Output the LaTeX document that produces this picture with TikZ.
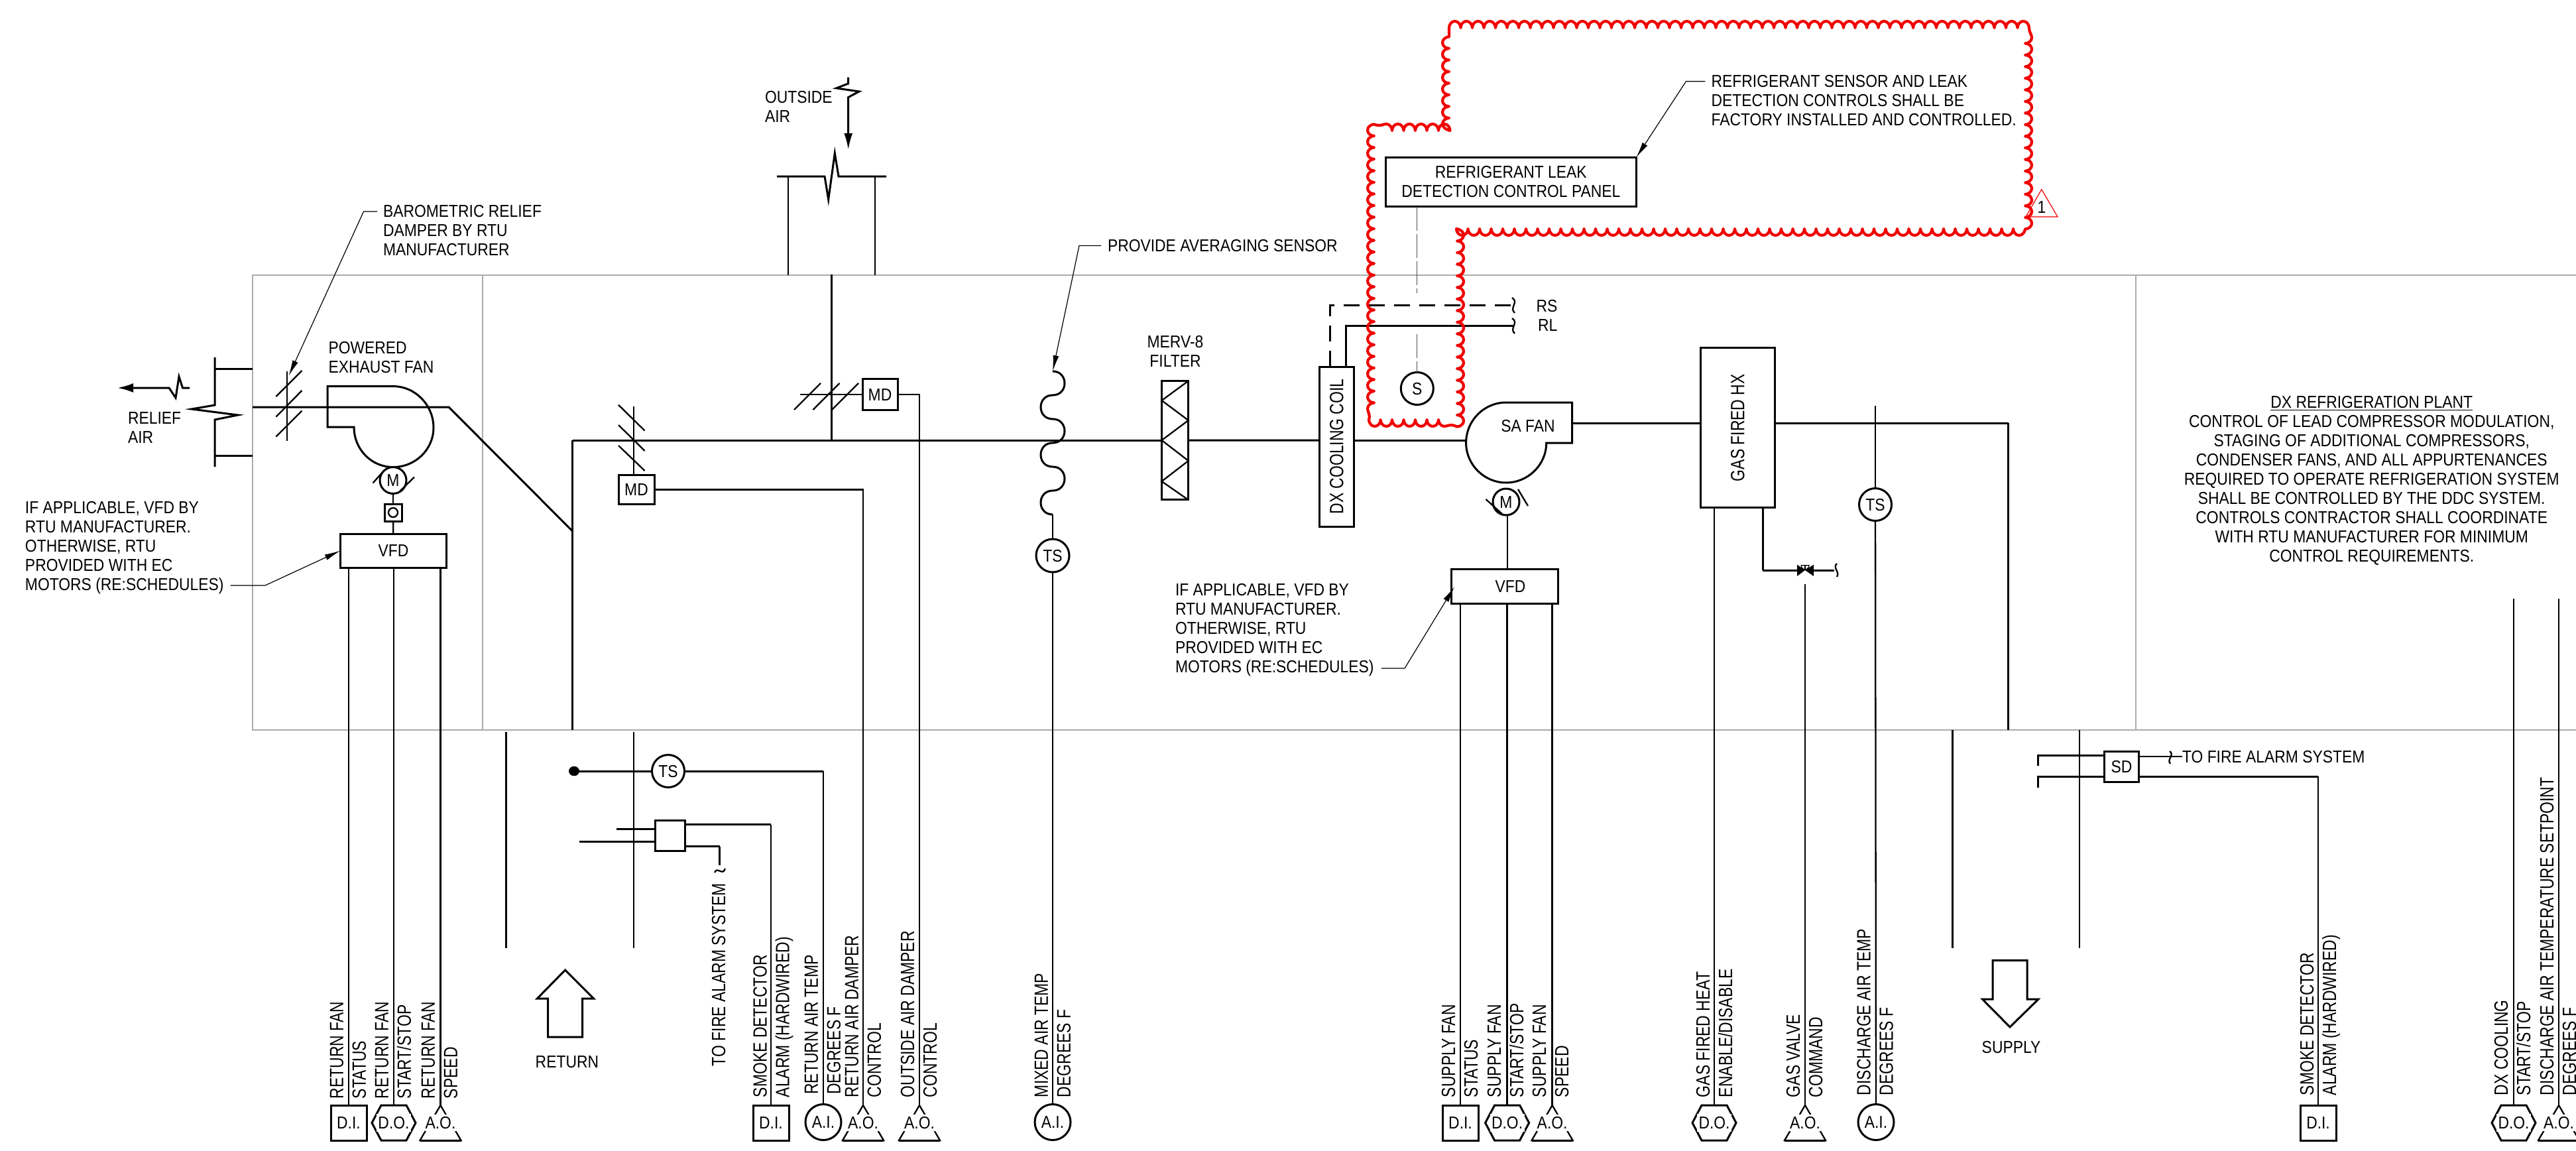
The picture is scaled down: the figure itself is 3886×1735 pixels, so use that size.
\documentclass[tikz,border=0pt]{standalone}
\usepackage{fontspec}
\setmainfont{Liberation Sans}[FakeStretch=0.88]
\newfontfamily\rotfont{Liberation Sans}[FakeStretch=0.79]
\usetikzlibrary{arrows.meta,calc,decorations.pathmorphing}
\definecolor{gridgrey}{HTML}{ABABAB}
\definecolor{cloudred}{HTML}{F00000}
\tikzset{
  every node/.style={inner sep=0pt,outer sep=0pt},
  line/.style={line width=1.15pt,black},
  heavy/.style={line width=1.5pt,black},
  frame/.style={line width=1pt,gridgrey},
  leader/.style={line width=.6pt,black,-{Latex[length=12pt,width=4.5pt]}},
  txt/.style={font=\fontsize{13}{14.5}\selectfont,anchor=west,align=left},
  ctxt/.style={font=\fontsize{13}{14.5}\selectfont,align=center},
  one/.style={font=\fontsize{13}{14.5}\selectfont,text height=9.3pt,text depth=0pt},
  vlab/.style={font=\rotfont\fontsize{14.5}{17}\selectfont,rotate=90,anchor=west,align=left,text depth=0pt},
  boxed/.style={draw,heavy,fill=white,font=\fontsize{13}{14.5}\selectfont,text height=9.3pt,text depth=0pt,align=center},
  rotbox/.style={draw,heavy,fill=white,rotate=90,font=\rotfont\fontsize{14.5}{17}\selectfont,text height=10.4pt,text depth=0pt},
  panelbox/.style={draw,heavy,fill=white,font=\fontsize{13}{14.5}\selectfont,align=center},
  sensor/.style={draw,circle,heavy,fill=white,minimum size=24.5pt,font=\fontsize{13}{14.5}\selectfont,text height=9.3pt,text depth=0pt},
  symb/.style={minimum height=26.5pt,minimum width=20pt,font=\fontsize{13}{14.5}\selectfont,text height=9.3pt,text depth=0pt},
  brk/.style={line width=1.15pt,black}
}
\newcommand\symDI[2]{\node[symb,draw,heavy,minimum width=27pt] (#1) at (#2,1693.5) {D.I.};}
\newcommand\symDO[2]{\draw[heavy] (#2-19,1667) -- (#2+19,1667) -- (#2+33,1693.5) -- (#2+19,1720) -- (#2-19,1720) -- (#2-33,1693.5) -- cycle;
  \fill[white] (#2-26,1680) rectangle (#2+26,1707);
  \node[symb] (#1) at (#2,1693.5) {D.O.};}
\newcommand\symAO[2]{\draw[line] (#2,1667) -- (#2+31,1720) -- (#2-31,1720) -- cycle;
  \draw[heavy] (#2-31,1720) -- (#2+31,1720);
  \fill[white] (#2-24,1681) rectangle (#2+24,1706);
  \node[symb] (#1) at (#2,1693.5) {A.O.};}
\newcommand\symAI[2]{\node[sensor,minimum size=27pt] (#1) at (#2,1692.5) {A.I.};}
\begin{document}
\begin{tikzpicture}[x=.5pt,y=-.5pt]
\useasboundingbox (0,0) rectangle (3886,1735);
\clip (0,0) rectangle (3886,1735);
% unit frame
\draw[frame] (3886,415) -- (381,415) -- (381,1101) -- (3886,1101);
\draw[frame] (728,415) -- (728,1101);
\draw[frame] (3222,415) -- (3222,1101);

% ---------- relief air
\draw[heavy,-{Latex[length=12pt,width=7pt]}] (286,585) -- (275.5,585) -- (270,568) -- (265,600) -- (255,585) -- (177,585);
\draw[heavy] (324,539) -- (324,611) -- (289,617) -- (359,626) -- (324,633) -- (324,704);
\draw[heavy] (324,556) -- (381,556);
\draw[heavy] (324,687) -- (381,687);
\node[txt] (relief) at (193,645) {RELIEF\\AIR};
\draw[heavy] (381,614) -- (677,614) -- (863.5,801);
\draw[line] (433,560) -- (433,665);
\draw[line] (416.5,598) -- (455.5,559);
\draw[line] (416.5,628.6) -- (455.5,589);
\draw[line] (416.5,658.5) -- (455.5,619.6);
\coordinate (bdtip) at (435.5,567);
\node[txt] (baro) at (578,348) {BAROMETRIC RELIEF\\DAMPER BY RTU\\MANUFACTURER};
\draw[leader] (569,319) -- (548.5,319) -- (bdtip);
\node[txt] (powered) at (495.5,539) {POWERED\\EXHAUST FAN};
% exhaust fan
\draw[heavy] (494,582.6) -- (593,582.6) .. controls (626.5,582.6) and (654,611) .. (654,645)
  .. controls (654,678) and (626.5,704.5) .. (593,704.5)
  .. controls (560.5,704.5) and (534,678) .. (534,644) -- (494,644) -- cycle;
\node[sensor,minimum size=20pt,draw] (m1) at (593,724.5) {M};
\draw[line] (562.5,728.6) -- (578,711);
\draw[line] (625,719.6) -- (603,741);
\node[draw,heavy,minimum width=13pt,minimum height=13pt] (cpl) at (593,773) {};
\draw[line] (593,773) circle (7);
\node[boxed,minimum width=80pt,minimum height=25.5pt] (vfd1) at (593.5,830.5) {VFD};
\draw[line] (m1) -- (cpl);
\draw[line] (cpl) -- (vfd1);
\node[txt] (note1) at (38,826) {IF APPLICABLE, VFD BY\\RTU MANUFACTURER.\\OTHERWISE, RTU\\PROVIDED WITH EC\\MOTORS (RE:SCHEDULES)};
\draw[leader] (347.6,883) -- (400,883) -- (vfd1.west);

% ---------- symbols along the bottom
\symDI{di1}{526}\symDO{do1}{594}\symAO{ao1}{664.5}
\symDI{di2}{1163}\symAI{ai1}{1242}\symAO{ao2}{1302}\symAO{ao3}{1387}
\symAI{ai2}{1588}
\symDI{di3}{2203}\symDO{do2}{2273.6}\symAO{ao4}{2341.6}
\symDO{do3}{2586}\symAO{ao5}{2723}\symAI{ai3}{2830}
\symDI{di4}{3497}\symDO{do4}{3792}\symAO{ao6}{3860}
\draw[line] (di1.north |- vfd1.south) -- (di1.north);
\draw[line] (do1.north |- vfd1.south) -- (do1.north);
\draw[line] (ao1.north |- vfd1.south) -- (ao1.north);
\node[vlab] at (525,1657) {RETURN FAN\\STATUS};
\node[vlab] at (593,1657) {RETURN FAN\\START/STOP};
\node[vlab] at (663,1657) {RETURN FAN\\SPEED};
\node[vlab] at (1163.5,1655) {SMOKE DETECTOR\\ALARM (HARDWIRED)};
\node[vlab] at (1241,1650.6) {RETURN AIR TEMP\\DEGREES F};
\node[vlab] at (1302,1655) {RETURN AIR DAMPER\\CONTROL};
\node[vlab] at (1386,1655) {OUTSIDE AIR DAMPER\\CONTROL};
\node[vlab] at (1588,1655) {MIXED AIR TEMP\\DEGREES F};
\node[vlab] at (2202,1655) {SUPPLY FAN\\STATUS};
\node[vlab] at (2271,1655) {SUPPLY FAN\\START/STOP};
\node[vlab] at (2339,1655) {SUPPLY FAN\\SPEED};
\node[vlab] at (2586,1655) {GAS FIRED HEAT\\ENABLE/DISABLE};
\node[vlab] at (2722,1655) {GAS VALVE\\COMMAND};
\node[vlab] at (2828.5,1652) {DISCHARGE AIR TEMP\\DEGREES F};
\node[vlab] at (3497,1652) {SMOKE DETECTOR\\ALARM (HARDWIRED)};
\node[vlab] at (3790,1652) {DX COOLING\\START/STOP};
\node[vlab] at (3859,1652) {DISCHARGE AIR TEMPERATURE SETPOINT\\DEGREES F};

% ---------- return section
\draw[line] (863.5,664) -- (863.5,1101);
\draw[heavy] (863.5,664) -- (1752.5,664);
\draw[line] (763.5,1104) -- (763.5,1430);
\draw[line] (955.8,1104) -- (955.8,1430);
\node[boxed,minimum width=27pt,minimum height=22pt] (md2) at (960,738.6) {MD};
\coordinate (rdtop) at (956,612.5);
\draw[line] (rdtop) -- (rdtop |- md2.north);
\draw[line] (933,610.7) -- (972.6,649.6);
\draw[line] (933,641) -- (972.6,680);
\draw[line] (933,672) -- (972.6,710);
\draw[line] (md2.east) -- (ao2.north |- md2.east) -- (ao2.north);
% return air sensor + smoke detector
\node[sensor] (ts2) at (1008,1163) {TS};
\fill[black] (866,1163) ellipse (8 and 7.3);
\coordinate (tsdot) at (866,1163);
\draw[heavy] (tsdot) -- (ts2);
\draw[heavy] (ts2) -- (ai1.north |- ts2);
\draw[line] (ai1.north |- ts2) -- (ai1.north);
\node[draw,heavy,minimum width=22.8pt,minimum height=23pt] (sd1) at (1010.8,1260) {};
\coordinate (s1a) at (930,1250);
\coordinate (s1b) at (873.7,1269.6);
\draw[heavy] (s1a) -- (s1a -| sd1.west);
\draw[heavy] (s1b) -- (s1b -| sd1.west);
\draw[heavy] (sd1.east |- 0,1243.7) -- (di2.north |- 0,1243.7);
\draw[line] (di2.north |- 0,1243.7) -- (di2.north);
\draw[heavy] (sd1.east |- 0,1276.5) -- (1085.6,1276.5);
\draw[line] (1085.6,1276.5) -- (1085.6,1304.5);
\draw[brk] (1078,1316) .. controls (1082,1306) and (1090,1322) .. (1094,1310);
\node[vlab,anchor=west] (tofa) at (1084,1608) {TO FIRE ALARM SYSTEM};
\draw[heavy,fill=white] (852.6,1463) -- (895.4,1506) -- (878.6,1506) -- (878.6,1564) -- (826.7,1564) -- (826.7,1506) -- (810.5,1506) -- cycle;
\node[one] (retlab) at (855.4,1601) {RETURN};

% ---------- outside air
\draw[heavy,-{Latex[length=12.5pt,width=6.5pt]}] (1279.7,116.7) -- (1279.7,126) -- (1261.7,133) -- (1296,138) -- (1279.7,146.7) -- (1279.7,226);
\node[txt] (oalab) at (1154,161) {OUTSIDE\\AIR};
\draw[heavy] (1172,266) -- (1244,266) -- (1249.7,301) -- (1259.3,231) -- (1265,266) -- (1337,266);
\draw[line] (1189.3,266) -- (1189.3,415);
\draw[line] (1320,266) -- (1320,415);
\draw[line] (1254.5,414) -- (1254.5,664);
\node[boxed,minimum width=26.5pt,minimum height=23.3pt] (md1) at (1327.5,594.7) {MD};
\coordinate (oadl) at (1207,594.7);
\draw[line] (oadl) -- (md1.west);
\draw[line] (1198,618) -- (1238,578);
\draw[line] (1226.4,618) -- (1266.6,578);
\draw[line] (1255,618) -- (1295,578);
\draw[line] (md1.east) -- (ao3.north |- md1.east) -- (ao3.north);

% ---------- averaging sensor
\coordinate (avg) at (1588,560);
\draw[heavy] (avg) .. controls (1612,560) and (1612,596) .. (1588,596)
  .. controls (1564,596) and (1564,632) .. (1588,632)
  .. controls (1612,632) and (1612,668) .. (1588,668)
  .. controls (1564,668) and (1564,704) .. (1588,704)
  .. controls (1612,704) and (1612,740) .. (1588,740)
  .. controls (1564,740) and (1564,776) .. (1588,776) coordinate (avgend);
\node[sensor,minimum size=25pt] (ts1) at (1588,838) {TS};
\draw[line] (avgend) -- (ts1);
\draw[line] (ts1) -- (ai2);
\node[one,anchor=west] (avglab) at (1671,370.5) {PROVIDE AVERAGING SENSOR};
\draw[leader] (1661,370.5) -- (1628,370.5) -- (avg);

% ---------- filter
\node[txt,anchor=center,align=center] (merv) at (1773,530) {MERV-8\\FILTER};
\node[draw,heavy,minimum width=20.1pt,minimum height=89.7pt] (filter) at (1772.6,664.2) {};
\draw[line] (1792.7,574.5) -- (1752.5,604) -- (1792.7,634) -- (1752.5,664) -- (1792.7,695) -- (1752.5,726) -- (1792.7,754);
\draw[heavy] (filter.east) -- (1990,664);

% ---------- coil
\node[rotbox,minimum width=120.5pt,minimum height=26pt] (coil) at (2016,673.5) {DX COOLING COIL};
\draw[heavy] (2042,664) -- (2211.6,664);
\coordinate (rsend) at (2283,460.3);
\coordinate (rlend) at (2283,491);
\draw[heavy,dash pattern=on 12pt off 7pt] (2006,553) -- (2006,460.3) -- (rsend);
\draw[heavy] (2030.6,553) -- (2030.6,491) -- (rlend);
\draw[brk] (2281,449) .. controls (2292,456) and (2276,464) .. (2285,472);
\draw[brk] (2281,480) .. controls (2292,487) and (2276,495) .. (2285,503);
\node[one,anchor=west] (rs) at (2317.6,460.7) {RS};
\node[one,anchor=west] (rl) at (2320,490) {RL};

% ---------- supply fan
\draw[heavy] (2371.6,607) -- (2272,607) .. controls (2239,607) and (2211.6,634) .. (2211.6,668)
  .. controls (2211.6,701) and (2239,728) .. (2272,728)
  .. controls (2305,728) and (2332.7,701) .. (2332.7,668) -- (2371.6,668) -- cycle;
\node[one] (safan) at (2305,642) {SA FAN};
\node[sensor,minimum size=20pt] (m2) at (2272,757) {M};
\draw[line] (2241.5,753) -- (2268,777);
\draw[line] (2290,738) -- (2305,763);
\node[boxed,minimum width=80.5pt,minimum height=26pt] (vfd2) at (2269.5,884) {\hspace*{9pt}VFD};
\draw[line] (2274,777) -- (2274,858);
\draw[line] (di3.north |- vfd2.south) -- (di3.north);
\draw[line] (do2.north |- vfd2.south) -- (do2.north);
\draw[line] (ao4.north |- vfd2.south) -- (ao4.north);
\node[txt] (note2) at (1773,950) {IF APPLICABLE, VFD BY\\RTU MANUFACTURER.\\OTHERWISE, RTU\\PROVIDED WITH EC\\MOTORS (RE:SCHEDULES)};
\draw[leader] (2084,1008) -- (2119,1008) -- (2194,885);

% ---------- gas heat exchanger
\node[rotbox,minimum width=120.75pt,minimum height=56pt] (hx) at (2621,645.2) {GAS FIRED HX};
\draw[heavy] (2371.6,638) -- (2565,638);
\draw[heavy] (2677,638) -- (3029.5,638);
\draw[line] (3029.5,638) -- (3029.5,1101);
\draw[line] (do3.north |- hx.west) -- (do3.north);
\coordinate (valve) at (2723,860);
\draw[line] (2659.4,766) -- (2659.4,860);
\draw[heavy] (2659.4,860) -- (2711,860);
\fill[black] (2711,851.7) -- (2723,860) -- (2711,869) -- cycle;
\fill[black] (2736,851.7) -- (2723,860) -- (2736,869) -- cycle;
\draw[line width=.6pt] (valve) -- (2723,852.7);
\draw[line width=.6pt] (2717,852.7) -- (2729,852.7) arc (0:180:6);
\draw[heavy] (2736,860) -- (2767,860);
\draw[brk] (2771,850) .. controls (2764,856) and (2776,863) .. (2771,870);
\draw[line] (ao5.north |- 0,881) -- (ao5.north);
\node[sensor] (ts3) at (2829,761) {TS};
\draw[line] (ts3.north |- 0,612) -- (ts3);
\draw[line] (ts3) -- (ai3);

% ---------- supply section
\draw[line] (2945.4,1101) -- (2945.4,1430);
\draw[line] (3137.3,1101) -- (3137.3,1430);
\node[boxed,minimum width=26.2pt,minimum height=23pt] (sd2) at (3200.5,1156) {SD};
\draw[heavy] (3074,1155) -- (3074,1139) -- (sd2.west |- 0,1139);
\draw[heavy] (3074,1188) -- (3074,1171.3) -- (sd2.west |- 0,1171.3);
\node[one,anchor=west] (tofa2) at (3292,1141) {TO FIRE ALARM SYSTEM};
\draw[line] (sd2.east |- tofa2) -- (tofa2);
\draw[brk] (3273,1133) .. controls (3281,1139) and (3268,1145) .. (3274,1152);
\draw[heavy] (sd2.east |- 0,1171.3) -- (di4.north |- 0,1171.3);
\draw[line] (di4.north |- 0,1171.3) -- (di4.north);
\draw[heavy,fill=white] (3006,1448.7) -- (3058,1448.7) -- (3058,1507) -- (3075,1507) -- (3032,1549) -- (2990.4,1507) -- (3006,1507) -- cycle;
\node[one] (suplab) at (3034,1579) {SUPPLY};

% ---------- DX plant note
\node[ctxt] (plant) at (3577.7,724.5) {\underline{DX REFRIGERATION PLANT}\\CONTROL OF LEAD COMPRESSOR MODULATION,\\STAGING OF ADDITIONAL COMPRESSORS,\\CONDENSER FANS, AND ALL APPURTENANCES\\REQUIRED TO OPERATE REFRIGERATION SYSTEM\\SHALL BE CONTROLLED BY THE DDC SYSTEM.\\CONTROLS CONTRACTOR SHALL COORDINATE\\WITH RTU MANUFACTURER FOR MINIMUM\\CONTROL REQUIREMENTS.};
\draw[line] (do4.north |- 0,903) -- (do4.north);
\draw[line] (ao6.north |- 0,903) -- (ao6.north);

% ---------- refrigerant leak detection
\node[panelbox,minimum width=189pt,minimum height=37pt] (panel) at (2279.3,274.5) {REFRIGERANT LEAK\\DETECTION CONTROL PANEL};
\node[sensor] (s) at (2137.8,586) {S};
\coordinate (dashend) at (2137.8,442);
\coordinate (dashstart) at (2137.8,503.6);
\draw[line width=.35pt,black!70,dash pattern=on 18pt off 2.5pt] (dashend |- panel.south) -- (dashend);
\draw[line width=.35pt,black!70,dash pattern=on 18pt off 2.5pt] (dashstart) -- (s);
\node[txt] (rnote) at (2581.6,152) {REFRIGERANT SENSOR AND LEAK\\DETECTION CONTROLS SHALL BE\\FACTORY INSTALLED AND CONTROLLED.};
\draw[leader] (2572.4,122.8) -- (2543.4,122.8) -- (panel.north east);
% revision cloud
\draw[cloudred,line width=2.1pt,line join=round,decorate,decoration={bumps,segment length=17.5pt,amplitude=5pt}]
  (2186,42) -- (3055,42) -- (3055,345) -- (2198,345) -- (2198,633) -- (2073,633) -- (2073,197) -- (2186,197) -- cycle;
\draw[cloudred,line width=.6pt] (3079.8,285.7) -- (3104,327) -- (3056,327) -- cycle;
\node[one] (delta) at (3080,312.5) {1};
\end{tikzpicture}
\end{document}
